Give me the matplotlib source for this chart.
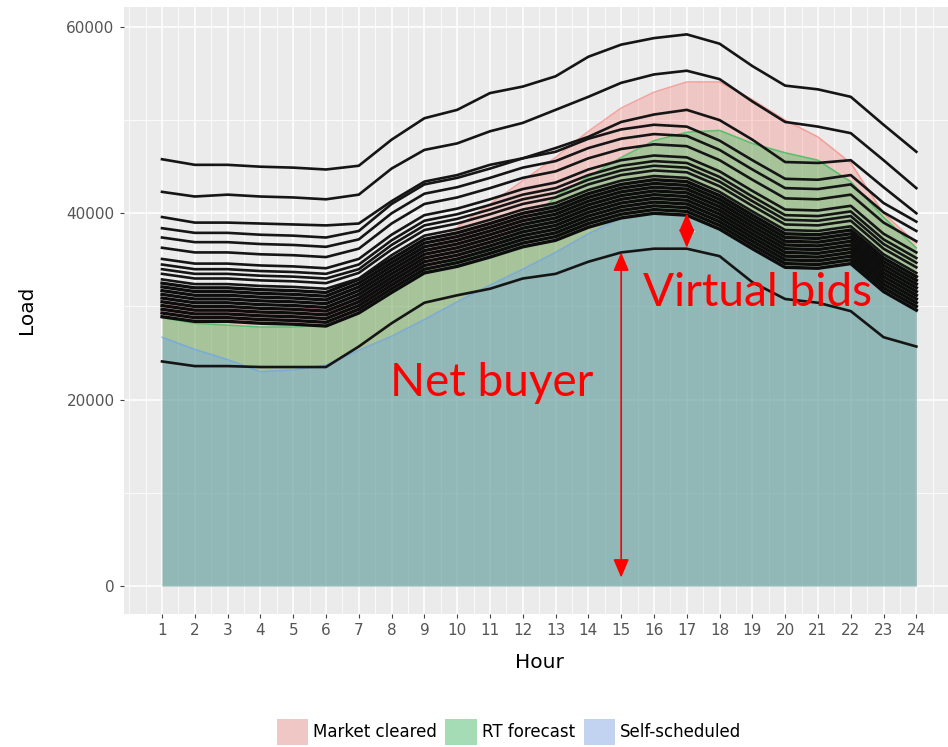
import matplotlib
matplotlib.use("Agg")
import matplotlib.pyplot as plt
import matplotlib.patches as mpatches
import numpy as np

hours = list(range(1, 25))

# area series, thousands of MW
market_cleared = [30.6, 30.0, 30.0, 29.8, 29.8, 29.7, 30.8, 33.0, 35.6, 38.5, 41.0, 43.5,
                  46.0, 48.8, 51.3, 53.0, 54.1, 54.1, 52.2, 50.0, 48.2, 45.4, 40.0, 36.8]
rt_forecast = [28.8, 28.2, 28.0, 27.8, 27.8, 28.0, 29.3, 31.6, 33.8, 35.0, 36.3, 38.3,
               41.8, 43.9, 46.0, 47.8, 48.7, 48.9, 47.5, 46.5, 45.7, 43.4, 39.6, 36.3]
self_scheduled = [26.7, 25.4, 24.3, 23.0, 23.2, 23.7, 25.3, 26.8, 28.6, 30.5, 32.3, 34.0,
                  35.8, 37.8, 39.5, 40.0, 39.8, 38.3, 36.2, 34.2, 34.1, 34.6, 31.6, 29.6]

# black load scenario lines, thousands of MW (upper, spread-out ones)
upper_lines = [
    [45.8, 45.2, 45.2, 45.0, 44.9, 44.7, 45.1, 47.9, 50.2, 51.1, 52.9, 53.6, 54.7, 56.8, 58.1, 58.8, 59.2, 58.2, 55.8, 53.7, 53.3, 52.5, 49.5, 46.6],
    [42.3, 41.8, 42.0, 41.8, 41.7, 41.5, 42.0, 44.8, 46.8, 47.5, 48.8, 49.7, 51.1, 52.5, 54.0, 54.9, 55.3, 54.4, 52.0, 49.8, 49.3, 48.6, 45.7, 42.7],
    [39.6, 39.0, 39.0, 38.9, 38.8, 38.7, 38.9, 41.3, 43.4, 44.1, 45.2, 45.9, 47.0, 48.2, 49.8, 50.6, 51.1, 50.0, 47.9, 45.5, 45.4, 45.7, 42.8, 40.0],
    [38.4, 37.9, 37.9, 37.7, 37.6, 37.4, 38.1, 41.0, 43.1, 43.8, 44.8, 45.9, 46.6, 48.0, 49.0, 49.5, 49.3, 47.8, 45.7, 43.7, 43.6, 44.1, 41.1, 39.1],
    [37.4, 36.9, 36.9, 36.7, 36.6, 36.4, 37.2, 40.0, 42.1, 42.8, 43.8, 44.9, 45.6, 47.0, 48.0, 48.5, 48.3, 46.8, 44.7, 42.7, 42.6, 43.1, 40.1, 38.1],
    [36.3, 35.8, 35.8, 35.6, 35.5, 35.3, 36.2, 38.9, 41.0, 41.7, 42.7, 43.8, 44.5, 45.9, 46.9, 47.4, 47.2, 45.7, 43.6, 41.6, 41.5, 42.0, 39.0, 37.0],
    [35.1, 34.6, 34.6, 34.4, 34.3, 34.1, 35.1, 37.7, 39.8, 40.5, 41.5, 42.6, 43.3, 44.7, 45.7, 46.2, 46.0, 44.5, 42.4, 40.4, 40.3, 40.8, 37.8, 35.8],
    [34.5, 34.0, 34.0, 33.8, 33.7, 33.5, 34.5, 37.1, 39.2, 39.9, 40.9, 42.0, 42.7, 44.1, 45.1, 45.6, 45.4, 43.9, 41.8, 39.8, 39.7, 40.2, 37.2, 35.2],
    [34.0, 33.5, 33.5, 33.3, 33.2, 33.0, 34.0, 36.6, 38.7, 39.4, 40.4, 41.5, 42.2, 43.6, 44.6, 45.1, 44.9, 43.4, 41.3, 39.3, 39.2, 39.7, 36.7, 34.7],
    [33.5, 33.0, 33.0, 32.8, 32.7, 32.5, 33.6, 36.1, 38.2, 38.9, 39.9, 41.0, 41.7, 43.1, 44.1, 44.6, 44.4, 42.9, 40.8, 38.8, 38.7, 39.2, 36.2, 34.2],
    [32.9, 32.4, 32.4, 32.2, 32.1, 31.9, 33.0, 35.5, 37.6, 38.3, 39.3, 40.4, 41.1, 42.5, 43.5, 44.0, 43.8, 42.3, 40.2, 38.2, 38.1, 38.6, 35.6, 33.6],
    [24.1, 23.6, 23.6, 23.5, 23.5, 23.5, 25.7, 28.2, 30.4, 31.2, 31.9, 33.0, 33.5, 34.8, 35.8, 36.2, 36.2, 35.4, 32.6, 30.8, 30.4, 29.5, 26.7, 25.7],
]

# densely packed scenario lines forming the thick black band
dense_lines = [
    [32.5, 32.0, 32.0, 31.8, 31.7, 31.5, 32.9, 35.1, 37.2, 37.9, 38.9, 40.0, 40.7, 42.1, 43.1, 43.6, 43.4, 41.9, 39.8, 37.8, 37.7, 38.2, 35.2, 33.2],
    [32.1, 31.6, 31.6, 31.4, 31.3, 31.1, 32.5, 34.7, 36.8, 37.5, 38.5, 39.6, 40.3, 41.7, 42.7, 43.2, 43.0, 41.5, 39.4, 37.4, 37.3, 37.8, 34.8, 32.8],
    [31.7, 31.2, 31.2, 31.0, 30.9, 30.7, 32.1, 34.3, 36.4, 37.1, 38.1, 39.2, 39.9, 41.3, 42.3, 42.8, 42.6, 41.1, 39.0, 37.0, 36.9, 37.4, 34.4, 32.4],
    [31.3, 30.8, 30.8, 30.6, 30.5, 30.3, 31.7, 33.9, 36.0, 36.7, 37.7, 38.8, 39.5, 40.9, 41.9, 42.4, 42.2, 40.7, 38.6, 36.6, 36.5, 37.0, 34.0, 32.0],
    [30.9, 30.4, 30.4, 30.2, 30.1, 29.9, 31.3, 33.5, 35.6, 36.3, 37.3, 38.4, 39.1, 40.5, 41.5, 42.0, 41.8, 40.3, 38.2, 36.2, 36.1, 36.6, 33.6, 31.6],
    [30.5, 30.0, 30.0, 29.8, 29.7, 29.5, 30.9, 33.1, 35.2, 35.9, 36.9, 38.0, 38.7, 40.1, 41.1, 41.6, 41.4, 39.9, 37.8, 35.8, 35.7, 36.2, 33.2, 31.2],
    [30.1, 29.6, 29.6, 29.4, 29.3, 29.1, 30.5, 32.7, 34.8, 35.5, 36.5, 37.6, 38.3, 39.7, 40.7, 41.2, 41.0, 39.5, 37.4, 35.4, 35.3, 35.8, 32.8, 30.8],
    [29.7, 29.2, 29.2, 29.0, 28.9, 28.7, 30.1, 32.3, 34.4, 35.1, 36.1, 37.2, 37.9, 39.3, 40.3, 40.8, 40.6, 39.1, 37.0, 35.0, 34.9, 35.4, 32.4, 30.4],
    [29.3, 28.8, 28.8, 28.6, 28.5, 28.3, 29.7, 31.9, 34.0, 34.7, 35.7, 36.8, 37.5, 38.9, 39.9, 40.4, 40.2, 38.7, 36.6, 34.6, 34.5, 35.0, 32.0, 30.0],
    [28.9, 28.4, 28.4, 28.2, 28.1, 27.9, 29.3, 31.5, 33.6, 34.3, 35.3, 36.4, 37.1, 38.5, 39.5, 40.0, 39.8, 38.3, 36.2, 34.2, 34.1, 34.6, 31.6, 29.6],
]

series_names = ["Market cleared", "RT forecast", "Self-scheduled"]
series_colors = ["#F8766D", "#00BA38", "#619CFF"]
legend_colors = ["#EFC8C5", "#A5DCB5", "#C2D3F1"]

fig = plt.figure(figsize=(9.48, 7.47), dpi=100)
ax = fig.add_axes([0.1311, 0.1786, 0.8753, 0.8123])
ax.set_facecolor("#EBEBEB")
for s in ax.spines.values():
    s.set_visible(False)

ax.set_xlim(-0.15, 25.15)
ax.set_ylim(-2960, 62160)
ax.set_xticks(hours)
ax.set_xticks(np.arange(0, 25.5, 0.5), minor=True)
ax.set_yticks([0, 20000, 40000, 60000])
ax.set_yticks([10000, 30000, 50000], minor=True)
ax.grid(which="major", color="white", lw=1.1)
ax.grid(which="minor", color="white", lw=0.55)
ax.set_axisbelow(True)
ax.tick_params(which="major", length=3, color="#444444", labelcolor="#555555",
               labelsize=11, pad=4)
ax.tick_params(which="minor", length=0)

for vals, col in zip([market_cleared, rt_forecast, self_scheduled], series_colors):
    y = np.array(vals) * 1000
    ax.fill_between(hours, 0, y, color=col, alpha=0.3, lw=0)
    ax.plot(hours, y, color=col, alpha=0.6, lw=1.1)

for line in dense_lines:
    ax.plot(hours, np.array(line) * 1000, color="#0d0d0d", lw=2.4)
for line in upper_lines:
    ax.plot(hours, np.array(line) * 1000, color="#151515", lw=1.9)

# annotations
ax.annotate("", xy=(15, 35800), xytext=(15, 900),
            arrowprops=dict(arrowstyle="<|-|>,head_length=0.4,head_width=0.17",
                            color="red", lw=1.2, mutation_scale=28,
                            shrinkA=0, shrinkB=0))
ax.annotate("", xy=(17, 40000), xytext=(17, 36300),
            arrowprops=dict(arrowstyle="<|-|>,head_length=0.4,head_width=0.17",
                            color="red", lw=1.2, mutation_scale=28,
                            shrinkA=0, shrinkB=0))
ax.plot([16.78, 17.22], [38150, 38150], color="white", lw=1)
ax.text(7.95, 21800, "Net buyer", color="red", fontsize=33, family="Lato",
        ha="left", va="center")
ax.text(15.66, 31400, "Virtual bids", color="red", fontsize=33, family="Lato",
        ha="left", va="center")

fig.text(539 / 948, 1 - 662 / 747, "Hour", ha="center", va="center", fontsize=14.5)
fig.text(27 / 948, 1 - 310 / 747, "Load", ha="center", va="center", fontsize=14.5,
         rotation=90)

handles = [mpatches.Patch(facecolor=c, edgecolor="none", label=n)
           for c, n in zip(legend_colors, series_names)]
fig.legend(handles=handles, loc="center", bbox_to_anchor=(509 / 948, 0.02),
           ncol=3, frameon=False, fontsize=12, handlelength=1.9, handleheight=2.0,
           handletextpad=0.3, columnspacing=0.5, borderpad=0)

fig.savefig("out.png", dpi=100)
